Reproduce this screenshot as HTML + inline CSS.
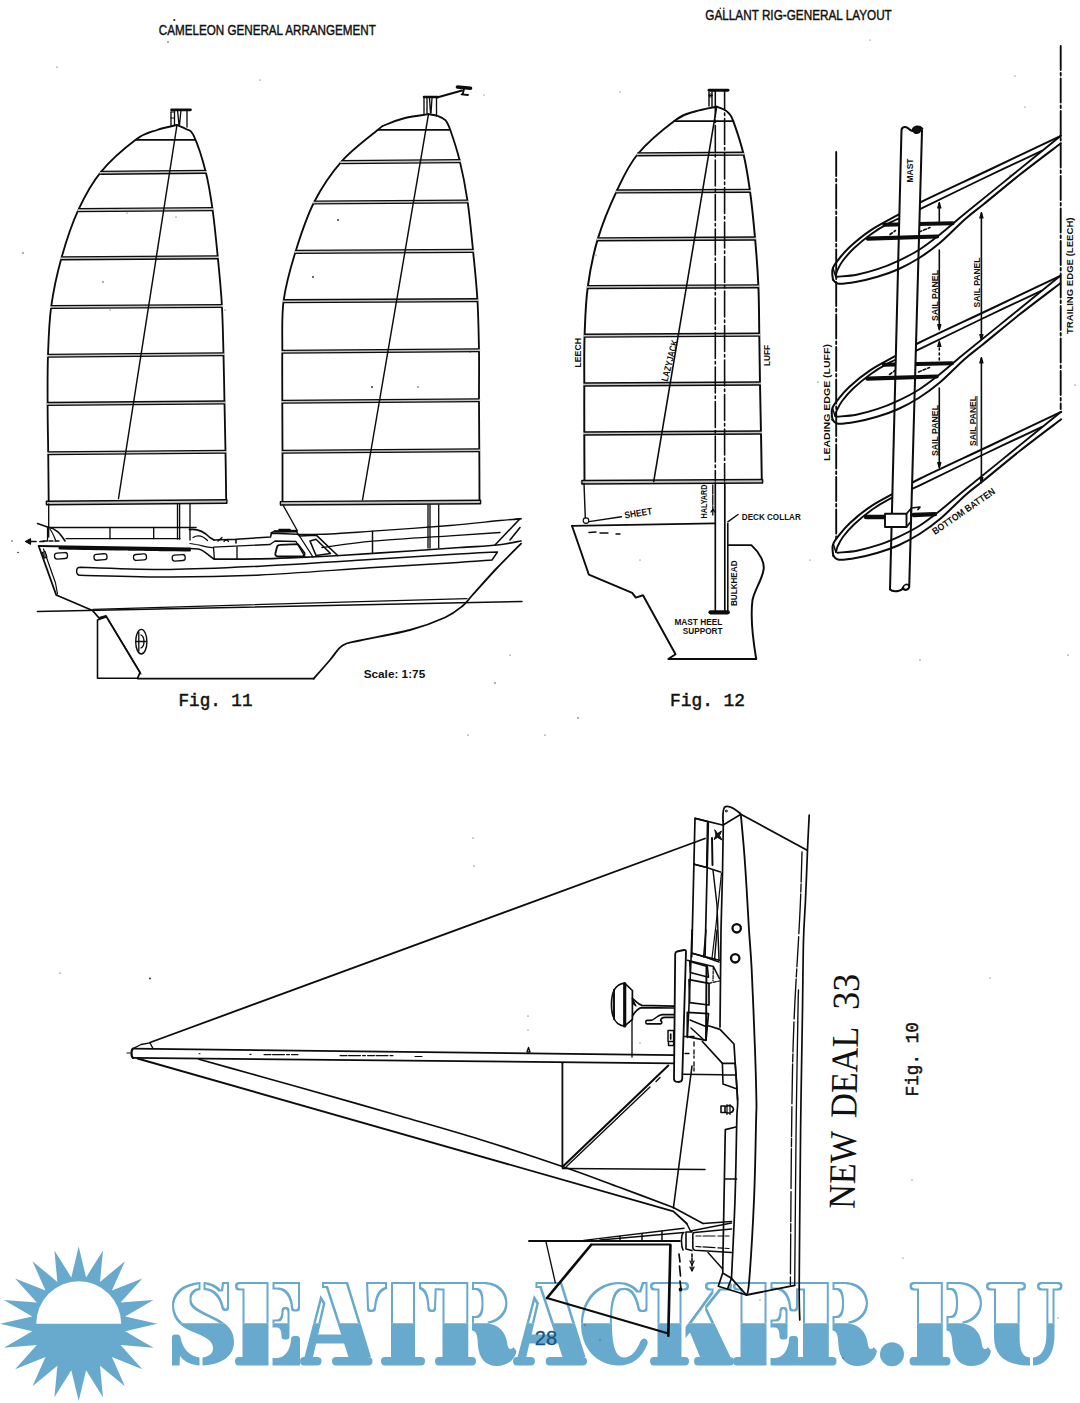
<!DOCTYPE html>
<html><head><meta charset="utf-8"><title>Page 28</title>
<style>
html,body{margin:0;padding:0;background:#fff;}
body{width:1080px;height:1403px;overflow:hidden;position:relative;font-family:"Liberation Sans",sans-serif;}
svg{position:absolute;left:0;top:0;display:block}
.ln path,.ln rect,.ln ellipse,.ln circle,.ln line{fill:none;stroke:#0c0c0c;stroke-linecap:round;stroke-linejoin:round}
.sans{font-family:"Liberation Sans",sans-serif;font-weight:bold;fill:#111}
.mono{font-family:"Liberation Mono",monospace;fill:#111}
.bold{font-weight:bold}
.med{font-weight:normal;stroke:#111;stroke-width:0.45px}
.med2{font-weight:normal;stroke:#111;stroke-width:0.5px}
.serif{font-family:"Liberation Serif",serif;fill:#111}
</style></head><body>
<svg width="1080" height="1403" viewBox="0 0 1080 1403">
<rect width="1080" height="1403" fill="#fff"/>
<!-- watermark (under drawings) -->
<defs>
<filter id="ol" x="-2%" y="-5%" width="104%" height="110%" color-interpolation-filters="sRGB">
<feMorphology in="SourceAlpha" operator="erode" radius="2.4" result="er"/>
<feFlood flood-color="#fff"/><feComposite in2="er" operator="in" result="wh"/>
<feMerge><feMergeNode in="SourceGraphic"/><feMergeNode in="wh"/></feMerge>
</filter>
<clipPath id="ctop"><rect x="160" y="1270" width="920" height="53.200000000000045"/></clipPath>
<clipPath id="cbot"><rect x="160" y="1323.2" width="920" height="60"/></clipPath>
<g id="wmg"><g transform="translate(172,1282.0) scale(1.0000,1)"><path d="M28.5,0 V8 C22,9 19.5,13.5 19.5,17.5 C19.5,25 30,29 42,35 C55,41 62,48.5 62,60 C62,74 50,82.5 30.5,83.5 V75.5 C38,74.5 41,71 41,66 C41,58 32,54.5 20,49.5 C8,44.5 0,37 0,23.5 C0,10 11,1 28.5,0 Z"/><path d="M31.5,0 C39,0.5 45,3 49,8 L50,0 H57 V26 Q57,29 54,29 H53 Q50,29 49.5,26 C47.5,16 41,8.5 31.5,8 Z"/><path d="M27.5,83.5 C19,83 12,79.5 8,74 L7.5,83.5 H0 V55.5 Q0,52.5 3,52.5 H5 Q8,52.5 8.5,55.5 C10.5,67 18,74.5 27.5,75.5 Z"/></g><g transform="translate(235,1282.0) scale(1.0000,1)"><path d="M0,4 Q0,0 4,0 H33.5 V83.5 H4 Q0,83.5 0,79.5 V79 Q0,75 4,75 H7.5 V8.5 H4 Q0,8.5 0,4 Z"/><path d="M37.5,0 H65 V26 Q65,29.5 62,29.5 H59 Q56,29.5 56,26 C55.5,16 50,7.5 42,7.5 H37.5 Z"/><path d="M37.5,37.5 H42 C45,37.5 46.5,34 46.5,28.5 Q46.5,25 49.5,25 H51.5 Q54.5,25 54.5,28.5 V54 Q54.5,57.5 51.5,57.5 H49.5 Q46.5,57.5 46.5,54 C46.5,49 45,45.5 42,45.5 H37.5 Z"/><path d="M37.5,83.5 H65 V57.5 Q65,54 62,54 H59 Q56,54 56,57.5 C55.5,67.5 50,76 42,76 H37.5 Z"/></g><g transform="translate(300,1282.0) scale(1.0000,1)"><path d="M22,0 H48 L71,75 H48.5 L26,6 H22 Z"/><path d="M36,75 H68 Q72.5,75 72.5,79 Q72.5,83.5 68,83.5 H36 Q32,83.5 32,79 Q32,75 36,75 Z"/><path d="M20.5,13 L25.5,21 L13,75 H17 Q21.5,75 21.5,79 Q21.5,83.5 17,83.5 H4 Q0,83.5 0,79 Q0,75 4,75 H4.5 Z"/><path d="M15,52.5 H42 L44.5,61.5 H13 Z"/></g><g transform="translate(366,1282.0) scale(1.0000,1)"><path d="M25,0 H49 V75 H55 Q59,75 59,79 Q59,83.5 55,83.5 H19 Q15,83.5 15,79 Q15,75 19,75 H25 Z"/><path d="M21,0 V7 C14,9 11,16 10,27 Q9.5,30 6.5,30 H4 Q1,30 1,27 L0,0 Z"/><path d="M53,0 V7 C59,9 61,16 61.5,27 Q62,30 65,30 H67 Q70,30 70,27 L71,0 Z"/></g><g transform="translate(435,1282.0) scale(1.0000,1)"><path d="M0,4 Q0,0 4,0 H33.3 V75 H37 Q41,75 41,79 Q41,83.5 37,83.5 H4 Q0,83.5 0,79 Q0,75 4,75 H7.5 V8.5 H4 Q0,8.5 0,4 Z"/><path d="M37,0 H49 C63,0 72.5,8.5 72.5,21 C72.5,32 65,40 54,41.5 C64,43.5 70.5,50 72,60 C72.5,64.5 73.5,67 75.5,67 C77,67 77.8,66 78.3,65 L81.5,69 C80,78 72,84 62,84 C50,84 44,76 43,64 C42.5,55 42,49 37,48.5 V34 H40 C45,34 46.5,28 46.5,21 C46.5,14 45,8 40,8 H37 Z"/></g><g transform="translate(513,1282.0) scale(1.0207,1)"><path d="M22,0 H48 L71,75 H48.5 L26,6 H22 Z"/><path d="M36,75 H68 Q72.5,75 72.5,79 Q72.5,83.5 68,83.5 H36 Q32,83.5 32,79 Q32,75 36,75 Z"/><path d="M20.5,13 L25.5,21 L13,75 H17 Q21.5,75 21.5,79 Q21.5,83.5 17,83.5 H4 Q0,83.5 0,79 Q0,75 4,75 H4.5 Z"/><path d="M15,52.5 H42 L44.5,61.5 H13 Z"/></g><g transform="translate(582,1282.0) scale(1.0000,1)"><path d="M57,9 C52,3 45,0 37,0 C15,0 -1,17 -1,41.75 C-1,66.5 15,83.5 37,83.5 C50,83.5 60,76 65.5,62 Q66.5,58 63,56.5 Q60,56 58.5,59 C55,69 49,75.5 42,75.5 C33,75.5 30,62 30,41.75 C30,21.5 33,8 42,8 C49,8 53.5,16 55.5,27 Q56,30 59,30 H62.5 Q65.5,30 65.5,27 V0 H60 Z"/></g><g transform="translate(650,1282.0) scale(1.0000,1)"><path d="M0,4 Q0,0 4,0 H35 Q39,0 39,4 Q39,8.5 35,8.5 H31.5 V75 H35 Q39,75 39,79 Q39,83.5 35,83.5 H4 Q0,83.5 0,79 Q0,75 4,75 H7.5 V8.5 H4 Q0,8.5 0,4 Z"/><path d="M35.5,45 L62,8.5 H59 Q55,8.5 55,4 Q55,0 59,0 H78 Q82,0 82,4 Q82,8.5 78,8.5 H71 L57,26 L80.4,75 Q84,75.5 84,79 Q84,83.5 80,83.5 H48 Q44,83.5 44,79 Q44,75 48,75 H50 L40,50.5 L35.5,56 Z"/></g><g transform="translate(733,1282.0) scale(1.0000,1)"><path d="M0,4 Q0,0 4,0 H33.5 V83.5 H4 Q0,83.5 0,79.5 V79 Q0,75 4,75 H7.5 V8.5 H4 Q0,8.5 0,4 Z"/><path d="M37.5,0 H65 V26 Q65,29.5 62,29.5 H59 Q56,29.5 56,26 C55.5,16 50,7.5 42,7.5 H37.5 Z"/><path d="M37.5,37.5 H42 C45,37.5 46.5,34 46.5,28.5 Q46.5,25 49.5,25 H51.5 Q54.5,25 54.5,28.5 V54 Q54.5,57.5 51.5,57.5 H49.5 Q46.5,57.5 46.5,54 C46.5,49 45,45.5 42,45.5 H37.5 Z"/><path d="M37.5,83.5 H65 V57.5 Q65,54 62,54 H59 Q56,54 56,57.5 C55.5,67.5 50,76 42,76 H37.5 Z"/></g><g transform="translate(795.5,1282.0) scale(1.0000,1)"><path d="M0,4 Q0,0 4,0 H33.3 V75 H37 Q41,75 41,79 Q41,83.5 37,83.5 H4 Q0,83.5 0,79 Q0,75 4,75 H7.5 V8.5 H4 Q0,8.5 0,4 Z"/><path d="M37,0 H49 C63,0 72.5,8.5 72.5,21 C72.5,32 65,40 54,41.5 C64,43.5 70.5,50 72,60 C72.5,64.5 73.5,67 75.5,67 C77,67 77.8,66 78.3,65 L81.5,69 C80,78 72,84 62,84 C50,84 44,76 43,64 C42.5,55 42,49 37,48.5 V34 H40 C45,34 46.5,28 46.5,21 C46.5,14 45,8 40,8 H37 Z"/></g><g transform="translate(909.5,1282.0) scale(1.0000,1)"><path d="M0,4 Q0,0 4,0 H33.3 V75 H37 Q41,75 41,79 Q41,83.5 37,83.5 H4 Q0,83.5 0,79 Q0,75 4,75 H7.5 V8.5 H4 Q0,8.5 0,4 Z"/><path d="M37,0 H49 C63,0 72.5,8.5 72.5,21 C72.5,32 65,40 54,41.5 C64,43.5 70.5,50 72,60 C72.5,64.5 73.5,67 75.5,67 C77,67 77.8,66 78.3,65 L81.5,69 C80,78 72,84 62,84 C50,84 44,76 43,64 C42.5,55 42,49 37,48.5 V34 H40 C45,34 46.5,28 46.5,21 C46.5,14 45,8 40,8 H37 Z"/></g><g transform="translate(986,1282.0) scale(1.0000,1)"><path d="M0,4 Q0,0 4,0 H36 Q40,0 40,4 Q40,8.5 36,8.5 H33.6 V55 C33.6,68 36,75 44,75.5 V83.5 C20,83.5 8,74 8,55 V8.5 H4 Q0,8.5 0,4 Z"/><path d="M47,75.5 C56,75 60.4,66 60.4,52 V8.5 H55 Q51,8.5 51,4 Q51,0 55,0 H72.5 Q76.5,0 76.5,4 Q76.5,8.5 72.5,8.5 H68.5 V52 C68.5,70 62,83 47,83.5 Z"/></g><circle cx="892" cy="1354.3" r="12"/></g>
</defs>
<g fill="#67aacd">
<path d="M157.3,1323.8 L125.1,1316.4 L153.5,1299.9 L120.6,1302.5 L142.3,1278.4 L111.9,1290.6 L124.9,1261.3 L100.0,1281.9 L103.0,1250.4 L86.1,1277.4 L78.7,1246.6 L71.3,1277.4 L54.4,1250.4 L57.4,1281.9 L32.5,1261.3 L45.5,1290.6 L15.1,1278.4 L36.8,1302.5 L3.9,1299.9 L32.3,1316.4 L0.1,1323.8 L32.3,1331.2 L3.9,1347.7 L36.8,1345.1 L15.1,1369.2 L45.5,1357.0 L32.5,1386.3 L57.4,1365.7 L54.4,1397.2 L71.3,1370.2 L78.7,1401.0 L86.1,1370.2 L103.0,1397.2 L100.0,1365.7 L124.9,1386.3 L111.9,1357.0 L142.3,1369.2 L120.6,1345.1 L153.5,1347.7 L125.1,1331.2 Z"/>
<path d="M36.2,1323.8 A42.5,42.5 0 0 1 121.2,1323.8 Z" fill="#fff"/>
<g clip-path="url(#ctop)"><use href="#wmg" filter="url(#ol)"/></g>
<g clip-path="url(#cbot)"><use href="#wmg"/></g>
</g>
<g class="ln">
<!-- Fig 11 -->
<path d="M177.0,125.0 C173.7,125.8 163.8,127.6 157.0,130.0 C150.2,132.4 145.3,132.5 136.0,139.5 C126.7,146.5 110.7,160.0 101.0,171.8 C91.3,183.6 84.7,196.0 78.1,210.4 C71.5,224.8 65.8,242.4 61.3,258.5 C56.8,274.6 53.4,290.6 51.2,306.7 C49.0,322.8 48.6,338.9 48.0,355.0 C47.4,371.1 47.6,386.8 47.6,403.0 C47.6,419.2 48.0,435.5 48.2,452.0 C48.4,468.5 48.6,493.7 48.7,502.0" stroke-width="1.83" />
<path d="M177.0,125.0 C178.5,125.7 183.2,127.2 186.0,129.0 C188.8,130.8 190.4,128.6 193.7,135.7 C197.0,142.8 202.6,159.6 205.7,171.8 C208.8,184.1 210.5,194.9 212.5,209.2 C214.5,223.4 216.2,241.2 217.8,257.3 C219.4,273.4 221.0,289.2 221.9,305.5 C222.8,321.8 223.1,338.8 223.5,355.0 C223.9,371.2 224.2,386.8 224.5,403.0 C224.8,419.2 225.2,435.5 225.5,452.0 C225.8,468.5 226.1,493.7 226.2,502.0" stroke-width="1.83" />
<path d="M135.67492260061917,139.8 L195.0628808864266,139.8" stroke-width="1.65"/>
<path d="M100.70336787564767,172.8 L205.79090909090908,171.8" stroke-width="2.90" style="stroke:#c4c4c4"/>
<path d="M100.70336787564767,171.35000000000002 L205.79090909090908,170.35000000000002" stroke-width="1.34"/>
<path d="M100.70336787564767,174.25 L205.79090909090908,173.25" stroke-width="1.34"/>
<path d="M78.57461139896373,210.1 L212.54407484407486,209.1" stroke-width="2.90" style="stroke:#c4c4c4"/>
<path d="M78.57461139896373,208.65 L212.54407484407486,207.65" stroke-width="1.34"/>
<path d="M78.57461139896373,211.54999999999998 L212.54407484407486,210.54999999999998" stroke-width="1.34"/>
<path d="M61.54449064449064,258.3 L217.84253112033196,257.3" stroke-width="2.90" style="stroke:#c4c4c4"/>
<path d="M61.54449064449064,256.85 L217.84253112033196,255.85000000000002" stroke-width="1.34"/>
<path d="M61.54449064449064,259.75 L217.84253112033196,258.75" stroke-width="1.34"/>
<path d="M51.24190871369295,307.0 L221.93232323232323,306.0" stroke-width="2.90" style="stroke:#c4c4c4"/>
<path d="M51.24190871369295,305.55 L221.93232323232323,304.55" stroke-width="1.34"/>
<path d="M51.24190871369295,308.45 L221.93232323232323,307.45" stroke-width="1.34"/>
<path d="M48.0,355.75 L223.5,354.25" stroke-width="2.90" style="stroke:#c4c4c4"/>
<path d="M48.0,354.3 L223.5,352.8" stroke-width="1.34"/>
<path d="M48.0,357.2 L223.5,355.7" stroke-width="1.34"/>
<path d="M47.60244897959184,403.95 L224.50408163265305,402.45" stroke-width="2.90" style="stroke:#c4c4c4"/>
<path d="M47.60244897959184,402.5 L224.50408163265305,401.0" stroke-width="1.34"/>
<path d="M47.60244897959184,405.4 L224.50408163265305,403.9" stroke-width="1.34"/>
<path d="M48.205000000000005,453.25 L225.507,451.75" stroke-width="2.90" style="stroke:#c4c4c4"/>
<path d="M48.205000000000005,451.8 L225.507,450.3" stroke-width="1.34"/>
<path d="M48.205000000000005,454.7 L225.507,453.2" stroke-width="1.34"/>
<path d="M46.5,503 L226.8,501.5" stroke-width="3.40" style="stroke:#c4c4c4"/>
<path d="M46.5,501.3 L226.8,499.8" stroke-width="1.40"/>
<path d="M46.5,504.7 L226.8,503.2" stroke-width="1.40"/>
<path d="M46.5,501.5 L46.5,504.5" stroke-width="1.22"/>
<path d="M226.8,500 L226.8,503" stroke-width="1.22"/>
<path d="M177,125 L118.5,498.5" stroke-width="1.46"/>
<path d="M171.5,109.8 H190.5" stroke-width="2.68" />
<path d="M171,112 V125.5 M174.5,110 V125 M177.5,110 L179,125 M181,110 L179.5,125 M187,110 V127" stroke-width="1.34" />
<path d="M171,112 H174.5 M171,118 H174.5" stroke-width="1.22" />
<path d="M177.5,504 V539 M179.6,504 V539 M190,504 V540" stroke-width="1.34" />
<path d="M48.7,504 L48.7,537" stroke-width="1.34"/>
<path d="M428.5,114.2 C424.6,114.8 412.2,116.2 405.0,118.0 C397.8,119.8 389.7,123.0 385.2,125.0 C380.7,127.0 385.2,123.8 378.0,129.8 C370.8,135.8 352.5,149.1 341.9,161.1 C331.3,173.1 321.9,186.9 314.2,202.0 C306.5,217.1 300.7,235.0 295.6,251.4 C290.5,267.9 285.8,284.1 283.6,300.7 C281.4,317.3 282.5,334.3 282.3,351.0 C282.1,367.7 282.3,384.3 282.3,401.0 C282.3,417.7 282.5,434.2 282.5,451.0 C282.5,467.8 282.5,493.5 282.5,502.0" stroke-width="1.83" />
<path d="M428.5,114.2 C430.1,114.5 435.2,115.0 438.0,116.0 C440.8,117.0 443.4,117.9 445.4,120.2 C447.4,122.5 447.8,123.0 450.2,129.8 C452.6,136.6 456.9,149.3 459.8,161.1 C462.7,172.9 465.3,186.0 467.5,200.8 C469.7,215.7 471.4,233.8 473.0,250.2 C474.6,266.6 476.4,282.7 477.4,299.5 C478.4,316.3 478.7,334.1 479.0,351.0 C479.3,367.9 478.9,384.3 479.0,401.0 C479.1,417.7 479.2,434.2 479.3,451.0 C479.4,467.8 479.5,493.5 479.5,502.0" stroke-width="1.83" />
<path d="M378.0,129.8 L450.2,129.8" stroke-width="1.65"/>
<path d="M341.561369193154,162.1 L459.89697732997485,161.1" stroke-width="2.90" style="stroke:#c4c4c4"/>
<path d="M341.561369193154,160.65 L459.89697732997485,159.65" stroke-width="1.34"/>
<path d="M341.561369193154,163.54999999999998 L459.89697732997485,162.54999999999998" stroke-width="1.34"/>
<path d="M314.2,202.5 L467.6336032388664,201.5" stroke-width="2.90" style="stroke:#c4c4c4"/>
<path d="M314.2,201.05 L467.6336032388664,200.05" stroke-width="1.34"/>
<path d="M314.2,203.95 L467.6336032388664,202.95" stroke-width="1.34"/>
<path d="M295.6,251.9 L473.10709939148074,250.9" stroke-width="2.90" style="stroke:#c4c4c4"/>
<path d="M295.6,250.45000000000002 L473.10709939148074,249.45000000000002" stroke-width="1.34"/>
<path d="M295.6,253.35 L473.10709939148074,252.35" stroke-width="1.34"/>
<path d="M283.6,301.2 L477.437281553398,300.2" stroke-width="2.90" style="stroke:#c4c4c4"/>
<path d="M283.6,299.75 L477.437281553398,298.75" stroke-width="1.34"/>
<path d="M283.6,302.65 L477.437281553398,301.65" stroke-width="1.34"/>
<path d="M282.3,351.75 L479.0,350.25" stroke-width="2.90" style="stroke:#c4c4c4"/>
<path d="M282.3,350.3 L479.0,348.8" stroke-width="1.34"/>
<path d="M282.3,353.2 L479.0,351.7" stroke-width="1.34"/>
<path d="M282.3,401.75 L479.0,400.25" stroke-width="2.90" style="stroke:#c4c4c4"/>
<path d="M282.3,400.3 L479.0,398.8" stroke-width="1.34"/>
<path d="M282.3,403.2 L479.0,401.7" stroke-width="1.34"/>
<path d="M282.5,451.75 L479.3,450.25" stroke-width="2.90" style="stroke:#c4c4c4"/>
<path d="M282.5,450.3 L479.3,448.8" stroke-width="1.34"/>
<path d="M282.5,453.2 L479.3,451.7" stroke-width="1.34"/>
<path d="M280.5,503.3 L480.5,502" stroke-width="3.40" style="stroke:#c4c4c4"/>
<path d="M280.5,501.6 L480.5,500.3" stroke-width="1.40"/>
<path d="M280.5,505.0 L480.5,503.7" stroke-width="1.40"/>
<path d="M280.5,501.8 L280.5,504.8" stroke-width="1.22"/>
<path d="M480.5,500.5 L480.5,503.5" stroke-width="1.22"/>
<path d="M428.5,114.2 L362.5,500" stroke-width="1.46"/>
<path d="M424,97 H437.5" stroke-width="2.44" />
<path d="M424,98 V113.5 M427,98 V113.5 M429.5,98 L430.5,113 M432,98 L431,113 M436.5,98 V116" stroke-width="1.34" />
<path d="M437,97.5 L462,90.5" stroke-width="1.95" />
<path d="M457.5,87 L470.5,88.2" stroke-width="3.66" />
<path d="M464,89 L463,93 M461.5,94.3 L468,95" stroke-width="1.83" />
<path d="M428,505 V548 M430,505 V548 M438.7,505 V548" stroke-width="1.34" />
<path d="M283,505 L297.5,531" stroke-width="1.34"/>
<path d="M38.7,546 L56.2,595 L92.5,610.5 L99,618 L106,616 L140,672.5 L137.5,678.5 L313.7,678.7" stroke-width="1.83" />
<path d="M313.7,678.7 C316.4,675.6 325.2,665.5 330.0,660.0 C334.8,654.5 337.5,648.8 342.5,645.5 C347.5,642.2 348.8,643.1 360.0,640.5 C371.2,637.9 395.8,633.8 410.0,630.0 C424.2,626.2 436.2,621.5 445.0,617.5 C453.8,613.5 457.9,609.8 462.5,606.0 C467.1,602.2 466.8,601.3 472.5,595.0 C478.2,588.7 488.9,576.5 497.0,568.0 C505.1,559.5 517.0,547.8 521.0,543.7" stroke-width="1.83" />
<path d="M43.5,549 L55.5,583 L57.5,594" stroke-width="1.22" />
<path d="M106,617 L97.5,620 V678.3 H137" stroke-width="1.59" />
<path d="M108.5,620 L141,674" stroke-width="1.22" />
<path d="M37.5,611.5 L522,601.5" stroke-width="1.46"/>
<path d="M93,609.3 L467,598.6" stroke-width="1.22"/>
<path d="M38.7,546 L190,548.5" stroke-width="1.83" />
<path d="M60,548 L190,550" stroke-width="3.17" stroke-dasharray="9 1.5 3 1"/>
<path d="M43,541 L60,541" stroke-width="1.46" stroke-dasharray="4 2"/>
<path d="M27,541.5 L36,541.5 M40,541.5 L44,541.5" stroke-width="1.71" />
<path d="M25.5,541.5 L30.5,538.8 L30.5,544.2 Z" stroke-width="1.22" style="fill:#111"/>
<path d="M214.4,559.2 C222.0,559.1 245.7,559.1 260.0,558.8 C274.3,558.5 286.7,557.9 300.0,557.4 C313.3,556.9 321.7,556.6 340.0,555.5 C358.3,554.4 390.0,552.3 410.0,551.0 C430.0,549.7 445.4,548.5 460.0,547.5 C474.6,546.5 487.3,546.1 497.5,545.0 C507.7,543.9 517.1,541.7 521.0,541.0" stroke-width="1.71" />
<path d="M80.0,567.3 C95.0,567.6 140.0,569.6 170.0,569.4 C200.0,569.2 226.7,567.8 260.0,566.2 C293.3,564.6 338.3,561.6 370.0,559.6 C401.7,557.6 428.8,555.8 450.0,554.5 C471.2,553.2 489.6,552.4 497.5,552.0 L492,560  C485.0,560.5 470.3,561.7 450.0,563.0 C429.7,564.3 401.7,565.8 370.0,567.8 C338.3,569.8 293.3,573.5 260.0,575.0 C226.7,576.5 200.0,577.0 170.0,577.0 C140.0,577.0 95.0,575.6 80.0,575.3 C75.5,575.3 75.5,567.3 80,567.3" stroke-width="1.46" />
<rect x="54.5" y="552.8" width="13" height="6" rx="2.6" stroke-width="1.3" transform="rotate(-4 61 555.8)"/>
<rect x="94.0" y="554" width="13" height="6" rx="2.6" stroke-width="1.3" transform="rotate(-4 100.5 557)"/>
<rect x="133.5" y="554.2" width="13" height="6" rx="2.6" stroke-width="1.3" transform="rotate(-4 140 557.2)"/>
<rect x="172.2" y="554.8" width="13" height="6" rx="2.6" stroke-width="1.3" transform="rotate(-4 178.7 557.8)"/>
<rect x="43" y="552" width="3.2" height="6" stroke-width="1" style="fill:#555" transform="rotate(-18 44 555)"/>
<ellipse cx="141.3" cy="641.7" rx="5.6" ry="12.3" stroke-width="1.4"/>
<path d="M138.8,632 V651 M136.5,641.5 H146 M141,635 C145,637 145,646 141,648" stroke-width="1.34" />
<path d="M47.5,527.5 H196" stroke-width="1.46" />
<path d="M66,538.7 H180" stroke-width="1.34" />
<path d="M110,527.5 V538.7 M153.7,527.5 V538.7" stroke-width="1.34" />
<path d="M37.5,523.5 L47.5,527 C56,528.5 60,533 65,541" stroke-width="1.59" />
<path d="M47.5,527 V541 M50,529 C53,533 54,537 56,541" stroke-width="1.22" />
<path d="M189.4,529.6 C198,528.5 204,531.5 209.8,537.5 L214,540" stroke-width="1.59" />
<path d="M193,537.5 C198,534.5 203,536 207.5,540.5" stroke-width="1.34" />
<path d="M190,548.5 L198,549 C205,550 208,556 214.4,559.2" stroke-width="1.59" />
<path d="M190,543.5 L196,544.5 C203,545.5 207,548 213.5,547.5" stroke-width="1.22" />
<path d="M214,540 L236,539.2 L236,543 M236,539.2 L270.5,537 L271.5,533.3 L297.7,534.2 L299.5,536 L316.3,535.2 L337.6,555.5" stroke-width="1.59" />
<path d="M213.5,547.2 L214.4,559.2 M213.5,547.2 L270,544.5 L275,541 L296,541.5 L305,557" stroke-width="1.34" />
<path d="M237,547 V559" stroke-width="1.34" />
<path d="M218,541 L222,537.5 M224,541.5 C225,539.5 227.5,539.5 228.5,541.5" stroke-width="1.34" />
<path d="M280,544.8 L298,544.2 L304.5,553 C305,555.5 304,556.3 302,556.3 L277.5,556.3 C275.5,556.3 275,555 275.5,553 L277,547 C277.5,545.3 278.5,544.8 280,544.8 Z" stroke-width="1.83" />
<path d="M310,541 L316,539.2 L330.5,553.5 L316,555.5 Z" stroke-width="1.59" />
<path d="M299.5,536 L313,557" stroke-width="1.34" />
<path d="M271,533 L275,531 L296,530.5 L298,534 M279,529.5 H290" stroke-width="1.46" />
<path d="M275,531.6 L296,531.2" stroke-width="2.44" />
<path d="M298.0,534.5 C303.3,534.4 317.6,534.5 330.0,534.0 C342.4,533.5 352.5,532.6 372.5,531.2 C392.5,529.8 428.8,527.3 450.0,525.5 C471.2,523.7 488.2,521.6 500.0,520.5 C511.8,519.4 517.5,519.0 521.0,518.7" stroke-width="1.34" />
<path d="M322.0,547.5 C330.4,546.5 351.2,543.2 372.5,541.2 C393.8,539.2 428.8,537.2 450.0,535.8 C471.2,534.3 491.7,533.0 500.0,532.5" stroke-width="1.34" />
<path d="M372.5,531.2 V553.5" stroke-width="1.46" />
<path d="M520,518.7 L495,545 M520,527.5 L510,540 M514,519.5 L521,518.7" stroke-width="1.59" />
<!-- Fig 12 -->
<path d="M716.7,106.7 C713.1,107.5 701.9,109.3 695.0,111.5 C688.1,113.7 685.1,112.9 675.6,120.0 C666.1,127.1 647.6,142.2 637.8,154.0 C628.0,165.8 623.4,176.9 616.7,191.1 C610.0,205.2 602.6,223.0 597.8,238.9 C593.0,254.8 590.0,270.7 587.8,286.7 C585.6,302.7 585.2,318.8 584.6,335.0 C584.0,351.2 584.3,367.7 584.3,384.0 C584.2,400.3 584.3,416.8 584.3,433.0 C584.3,449.2 584.5,473.0 584.5,481.0" stroke-width="1.95" />
<path d="M716.7,106.7 C717.9,107.2 722.0,108.4 724.0,109.5 C726.0,110.6 727.4,111.4 728.9,113.3 C730.4,115.2 730.9,114.4 733.3,121.1 C735.7,127.8 740.5,141.6 743.3,153.3 C746.1,165.0 748.0,176.8 750.0,191.1 C752.0,205.4 753.7,223.0 755.1,238.9 C756.5,254.8 757.7,270.7 758.4,286.7 C759.1,302.7 759.0,318.8 759.3,335.0 C759.6,351.2 759.7,367.7 760.0,384.0 C760.3,400.3 760.7,416.8 761.0,433.0 C761.3,449.2 761.7,473.0 761.8,481.0" stroke-width="1.95" />
<path d="M674.3770588235294,121.1 L733.3,121.1" stroke-width="1.76"/>
<path d="M637.8,154.3 L743.424074074074,153.7" stroke-width="2.90" style="stroke:#c4c4c4"/>
<path d="M637.8,152.85000000000002 L743.424074074074,152.25" stroke-width="1.43"/>
<path d="M637.8,155.75 L743.424074074074,155.14999999999998" stroke-width="1.43"/>
<path d="M616.7,191.4 L750.0,190.79999999999998" stroke-width="2.90" style="stroke:#c4c4c4"/>
<path d="M616.7,189.95000000000002 L750.0,189.35" stroke-width="1.43"/>
<path d="M616.7,192.85 L750.0,192.24999999999997" stroke-width="1.43"/>
<path d="M597.8,239.3 L755.1,238.5" stroke-width="2.90" style="stroke:#c4c4c4"/>
<path d="M597.8,237.85000000000002 L755.1,237.05" stroke-width="1.43"/>
<path d="M597.8,240.75 L755.1,239.95" stroke-width="1.43"/>
<path d="M587.8,287.09999999999997 L758.4,286.3" stroke-width="2.90" style="stroke:#c4c4c4"/>
<path d="M587.8,285.65 L758.4,284.85" stroke-width="1.43"/>
<path d="M587.8,288.54999999999995 L758.4,287.75" stroke-width="1.43"/>
<path d="M584.5987755102041,335.7 L759.3028571428571,334.7" stroke-width="2.90" style="stroke:#c4c4c4"/>
<path d="M584.5987755102041,334.25 L759.3028571428571,333.25" stroke-width="1.43"/>
<path d="M584.5987755102041,337.15 L759.3028571428571,336.15" stroke-width="1.43"/>
<path d="M584.3,384.5 L760.0,383.5" stroke-width="2.90" style="stroke:#c4c4c4"/>
<path d="M584.3,383.05 L760.0,382.05" stroke-width="1.43"/>
<path d="M584.3,385.95 L760.0,384.95" stroke-width="1.43"/>
<path d="M584.3,433.5 L761.0,432.5" stroke-width="2.90" style="stroke:#c4c4c4"/>
<path d="M584.3,432.05 L761.0,431.05" stroke-width="1.43"/>
<path d="M584.3,434.95 L761.0,433.95" stroke-width="1.43"/>
<path d="M582,482.3 L762.5,481.3" stroke-width="3.40" style="stroke:#c4c4c4"/>
<path d="M582,480.6 L762.5,479.6" stroke-width="1.49"/>
<path d="M582,484.0 L762.5,483.0" stroke-width="1.49"/>
<path d="M582,480.8 L582,483.8" stroke-width="1.30"/>
<path d="M762.5,479.8 L762.5,482.8" stroke-width="1.30"/>
<path d="M716.7,106.7 L653.7,481.5" stroke-width="1.56"/>
<path d="M709,90.3 H728" stroke-width="2.86" />
<path d="M709,92 V106 M712,91 V106.5 M709,95.5 H712" stroke-width="1.43" />
<circle cx="710.5" cy="95.5" r="1.6" stroke-width="1"/>
<path d="M715.3,91 V481" stroke-width="1.56" stroke-dasharray="26 3 2.5 3"/>
<path d="M724.6,91 V481" stroke-width="1.56" stroke-dasharray="26 3 2.5 3" stroke-dashoffset="7"/>
<path d="M715.3,483 V611 M724.8,483 V611" stroke-width="1.69" />
<path d="M712.8,485 V515" stroke-width="1.30" stroke-dasharray="9 1.5"/>
<path d="M711,512 L713,509 L714.5,512" stroke-width="1.30" />
<path d="M727.8,523.5 V610.5" stroke-width="1.56" />
<path d="M727.8,521.8 L738,514.5" stroke-width="1.43" />
<path d="M710.5,612.3 H727.8" stroke-width="4.16" stroke-linecap="butt"/>
<path d="M584,483.5 L585.3,517.5" stroke-width="1.43"/>
<circle cx="586" cy="520.6" r="2.8" stroke-width="1.2"/>
<path d="M589,521.6 L621.5,516.8" stroke-width="1.43"/>
<path d="M572,525.8 L714.5,523.4" stroke-width="1.82"/>
<path d="M589,532.5 L596,532 M600,533 H608 M616,534 H620" stroke-width="1.43" />
<path d="M572,525.8 L588.9,574.7 L632.2,592.8 L635.8,597.6 L643,595.2 L675.5,654.2 L668.3,659 L756.2,659" stroke-width="1.95" />
<path d="M728.5,545.1 H751.4 C760,553 765,563 763.5,570 C762,580 754.5,590 752.5,600 C750.5,615 753,640 756.2,659" stroke-width="1.95" />
<!-- Fig 12 detail -->
<path d="M1060.8,135.8 C1049.0,141.4 1013.5,158.4 990.0,169.5 C966.5,180.6 935.2,195.0 920.0,202.5 C904.8,210.0 907.2,209.7 899.0,214.3 C890.8,218.9 878.8,224.9 870.6,230.3 C862.4,235.7 855.0,242.1 849.7,246.9 C844.4,251.8 841.4,255.9 838.6,259.4 C835.8,262.9 834.0,265.4 833.0,267.8 C832.0,270.2 832.3,272.0 832.3,274.0 C832.3,276.0 832.9,278.7 833.0,279.6" stroke-width="2.03" />
<path d="M1041.7,150.8 C1031.4,155.7 1000.3,170.3 980.0,180.0 C959.7,189.7 935.2,202.0 920.0,209.2 C904.8,216.4 896.8,219.1 888.6,223.3 C880.4,227.5 876.4,230.2 870.6,234.4 C864.8,238.6 858.5,243.9 853.9,248.3 C849.3,252.7 845.6,257.1 842.8,260.8 C840.0,264.5 838.4,268.1 837.2,270.6 C836.0,273.2 836.0,275.2 835.8,276.1" stroke-width="1.89" />
<path d="M1060.3,275.8 C1048.5,281.4 1013.0,298.4 989.5,309.5 C966.0,320.6 934.7,335.0 919.5,342.5 C904.3,350.0 906.7,349.7 898.5,354.3 C890.3,358.9 878.3,364.9 870.1,370.3 C861.9,375.7 854.5,382.0 849.2,386.9 C843.9,391.8 840.9,395.9 838.1,399.4 C835.3,402.9 833.5,405.4 832.5,407.8 C831.5,410.2 831.8,412.0 831.8,414.0 C831.8,416.0 832.4,418.7 832.5,419.6" stroke-width="2.03" />
<path d="M1041.2,290.8 C1030.9,295.7 999.8,310.3 979.5,320.0 C959.2,329.7 934.7,342.0 919.5,349.2 C904.3,356.4 896.3,359.1 888.1,363.3 C879.9,367.5 875.9,370.2 870.1,374.4 C864.3,378.6 858.0,383.9 853.4,388.3 C848.8,392.7 845.1,397.1 842.3,400.8 C839.5,404.5 837.9,408.1 836.7,410.6 C835.5,413.2 835.5,415.2 835.3,416.1" stroke-width="1.89" />
<path d="M1061.1,411.8 C1049.3,417.4 1013.8,434.4 990.3,445.5 C966.8,456.6 935.5,471.0 920.3,478.5 C905.1,486.0 907.5,485.7 899.3,490.3 C891.1,494.9 879.1,500.9 870.9,506.3 C862.7,511.7 855.3,518.0 850.0,522.9 C844.7,527.8 841.7,531.9 838.9,535.4 C836.1,538.9 834.3,541.4 833.3,543.8 C832.2,546.2 832.6,548.0 832.6,550.0 C832.6,552.0 833.2,554.7 833.3,555.6" stroke-width="2.03" />
<path d="M1042.0,426.8 C1031.7,431.7 1000.6,446.3 980.3,456.0 C960.0,465.7 935.5,478.0 920.3,485.2 C905.1,492.4 897.1,495.1 888.9,499.3 C880.7,503.5 876.7,506.2 870.9,510.4 C865.1,514.6 858.8,519.9 854.2,524.3 C849.6,528.7 845.9,533.1 843.1,536.8 C840.3,540.5 838.7,544.0 837.5,546.6 C836.3,549.2 836.3,551.2 836.1,552.1" stroke-width="1.89" />
<path d="M884.4,224.7 L952.5,223.3" stroke-width="4.06" stroke-linecap="butt"/>
<path d="M883.9,364.7 L952.0,363.3" stroke-width="4.06" stroke-linecap="butt"/>
<path d="M901.5,130 C902,126.5 906,126 909,129 C911,131 913.5,132 916,129.5 C918,127 921.5,127.5 922,131 L909.2,587 C908,591 903.5,590.5 903,587.5 C902,591.5 893,592.5 890,589.5 Z" stroke-width="2.03" style="fill:#fff"/>
<path d="M912.5,129.5 C914,126 919,125 922.5,128.5 L919,132.5 C916,134 913.5,133 912.5,129.5 Z" stroke-width="1.74" style="fill:#111"/>
<path d="M903,587.5 C904,584 907.5,583.5 909.2,586" stroke-width="1.59" />
<path d="M867.8,238.6 L937.2,236.5" stroke-width="4.06" stroke-linecap="butt"/>
<path d="M890,234.5 L895.5,230.5 M919,232 L930,227.5" stroke-width="1.59" stroke-dasharray="3 2"/>
<path d="M867.3,378.6 L936.7,376.5" stroke-width="4.06" stroke-linecap="butt"/>
<path d="M889.5,374.5 L895.0,370.5 M918.5,372 L929.5,367.5" stroke-width="1.59" stroke-dasharray="3 2"/>
<path d="M866,517 H885" stroke-width="4.35" stroke-linecap="butt"/>
<path d="M913.7,515 L935,514.2" stroke-width="4.35" stroke-linecap="butt"/>
<path d="M885,513.7 H906.5 V527 H885 Z" stroke-width="1.89" style="fill:#fff"/>
<path d="M906.5,513.7 L911.5,508 L920,507 L918,509.5 M906.5,527 L911,521.5 V508.5" stroke-width="1.74" />
<path d="M837.2,276.8 C840.5,276.4 850.0,276.0 856.7,274.7 C863.4,273.4 870.6,271.5 877.5,269.2 C884.4,266.9 891.3,264.1 898.3,260.8 C905.2,257.6 912.2,254.1 919.2,249.7 C926.2,245.3 932.4,240.4 940.0,234.4 C947.6,228.4 953.3,223.2 965.0,213.6 C976.7,204.0 994.0,190.0 1010.0,177.0 C1026.0,164.0 1052.3,142.7 1060.8,135.8" stroke-width="1.89" />
<path d="M833.0,279.6 C833.9,280.3 834.6,283.4 838.6,283.7 C842.6,284.0 850.2,282.8 856.7,281.7 C863.2,280.6 870.6,278.9 877.5,276.8 C884.4,274.7 891.3,272.3 898.3,269.2 C905.2,266.1 912.2,262.4 919.2,258.0 C926.2,253.6 932.4,249.3 940.0,242.8 C947.6,236.3 957.8,225.6 965.0,219.2 C972.2,212.8 974.1,211.9 983.3,204.5 C992.5,197.1 1007.1,184.7 1020.0,174.5 C1032.9,164.3 1054.0,148.5 1060.8,143.3" stroke-width="2.03" />
<path d="M833,268 L835.5,276" stroke-width="1.45" />
<path d="M836.7,416.8 C840.0,416.4 849.5,416.0 856.2,414.7 C862.9,413.4 870.1,411.5 877.0,409.2 C883.9,406.9 890.8,404.1 897.8,400.8 C904.8,397.6 911.8,394.1 918.7,389.7 C925.7,385.3 931.9,380.4 939.5,374.4 C947.1,368.4 952.8,363.2 964.5,353.6 C976.2,344.0 993.5,330.0 1009.5,317.0 C1025.5,304.0 1051.8,282.7 1060.3,275.8" stroke-width="1.89" />
<path d="M832.5,419.6 C833.4,420.3 834.1,423.4 838.1,423.7 C842.1,424.0 849.7,422.8 856.2,421.7 C862.7,420.6 870.1,418.9 877.0,416.8 C883.9,414.7 890.8,412.3 897.8,409.2 C904.8,406.1 911.8,402.4 918.7,398.0 C925.7,393.6 931.9,389.3 939.5,382.8 C947.1,376.3 957.3,365.6 964.5,359.2 C971.7,352.8 973.6,351.9 982.8,344.5 C992.0,337.1 1006.6,324.7 1019.5,314.5 C1032.4,304.3 1053.5,288.5 1060.3,283.3" stroke-width="2.03" />
<path d="M832.5,408 L835.0,416" stroke-width="1.45" />
<path d="M837.5,552.8 C840.8,552.4 850.3,552.0 857.0,550.7 C863.7,549.4 870.9,547.5 877.8,545.2 C884.7,542.9 891.6,540.0 898.6,536.8 C905.5,533.5 912.5,530.1 919.5,525.7 C926.5,521.3 932.7,516.4 940.3,510.4 C947.9,504.4 953.6,499.2 965.3,489.6 C977.0,480.0 994.3,466.0 1010.3,453.0 C1026.3,440.0 1052.6,418.7 1061.1,411.8" stroke-width="1.89" />
<path d="M833.3,555.6 C834.2,556.3 834.9,559.4 838.9,559.7 C842.9,560.1 850.5,558.9 857.0,557.7 C863.5,556.6 870.9,554.9 877.8,552.8 C884.7,550.7 891.6,548.3 898.6,545.2 C905.5,542.1 912.5,538.4 919.5,534.0 C926.5,529.6 932.7,525.3 940.3,518.8 C947.9,512.3 958.1,501.6 965.3,495.2 C972.5,488.8 974.4,487.9 983.6,480.5 C992.8,473.1 1007.4,460.7 1020.3,450.5 C1033.2,440.3 1054.3,424.5 1061.1,419.3" stroke-width="2.03" />
<path d="M833.3,544 L835.8,552" stroke-width="1.45" />
<path d="M836.2,152 V541" stroke-width="1.89" stroke-dasharray="24 3 2.5 3"/>
<path d="M1060.7,46 V409" stroke-width="1.89" stroke-dasharray="24 3 2.5 3"/>
<path d="M939.3,203 L939.3,223" stroke-width="1.59"/>
<path d="M939.3,202.5 L937.6999999999999,208.0 L940.9,208.0 Z" stroke-width="1.16" style="fill:#111"/>
<path d="M939.3,250 L939.3,329" stroke-width="1.59"/>
<path d="M939.3,330 L937.6999999999999,324.5 L940.9,324.5 Z" stroke-width="1.16" style="fill:#111"/>
<path d="M939.3,341 L937.6999999999999,346.5 L940.9,346.5 Z" stroke-width="1.16" style="fill:#111"/>
<path d="M939.3,343 V362" stroke-width="1.59" stroke-dasharray="2 3"/>
<path d="M939.3,388 L939.3,467" stroke-width="1.59"/>
<path d="M939.3,468 L937.6999999999999,462.5 L940.9,462.5 Z" stroke-width="1.16" style="fill:#111"/>
<path d="M981.4,213 L981.4,339" stroke-width="1.59"/>
<path d="M981.4,212.5 L979.8,218.0 L983.0,218.0 Z" stroke-width="1.16" style="fill:#111"/>
<path d="M981.4,340 L979.8,334.5 L983.0,334.5 Z" stroke-width="1.16" style="fill:#111"/>
<path d="M981.4,358 L981.4,482" stroke-width="1.59"/>
<path d="M981.4,357.5 L979.8,363.0 L983.0,363.0 Z" stroke-width="1.16" style="fill:#111"/>
<path d="M981.4,483 L979.8,477.5 L983.0,477.5 Z" stroke-width="1.16" style="fill:#111"/>
<!-- Fig 10 -->
<path d="M133,1048.6 L674,1055.2 M133,1057.8 L674,1063.4" stroke-width="1.71" />
<path d="M133,1048.6 C131,1050 131,1056.5 133,1057.8" stroke-width="2.20" />
<path d="M127,1053 H130" stroke-width="1.22" />
<path d="M133,1048.6 L141,1044.5 L150,1042.8 L153,1048.6" stroke-width="1.34" />
<path d="M264,1054.6 H298 M340,1055.6 H393 M415,1056.5 H422 M250,1054.4 H251 M199,1053.8 H200" stroke-width="1.10" stroke-dasharray="7 1.5 12 2 3 2"/>
<path d="M150,1042.5 L705,838.5" stroke-width="1.83"/>
<path d="M137.5,1058.5 L673.4,1211.3 L686.7,1223.5" stroke-width="1.83" />
<path d="M199.0,1059.3 C207.5,1061.7 233.2,1068.8 250.0,1073.5 C266.8,1078.2 275.0,1080.4 300.0,1087.5 C325.0,1094.6 370.0,1107.3 400.0,1116.0 C430.0,1124.7 452.9,1131.1 480.0,1139.5 C507.1,1147.9 539.1,1158.5 562.4,1166.5 C585.7,1174.5 601.5,1180.7 620.0,1187.5 C638.5,1194.3 664.5,1204.2 673.4,1207.5" stroke-width="1.71" />
<path d="M673.4,1207.5 L703,1223.5" stroke-width="1.59" />
<path d="M527,1052 L528.5,1047.5 L530,1052 Z" stroke-width="1.34" />
<path d="M562.4,1063.2 V1167" stroke-width="1.83" />
<path d="M562.4,1168.5 L705,1169.5" stroke-width="1.46" />
<path d="M562.6,1166.8 L668.3,1065.6" stroke-width="2.07" />
<path d="M566.5,1166.5 L650,1087 M656,1081.5 L660,1077.5" stroke-width="1.34" />
<path d="M692,1066 L673.4,1208" stroke-width="1.59"/>
<path d="M632,1019 L632,1057" stroke-width="1.34"/>
<path d="M624.5,983.1 C613,984.5 611.5,995 611.5,1004.5 C611.5,1014 613,1024.5 624.5,1026.2 L632.4,1019.3 V990.5 Z" stroke-width="1.71" />
<path d="M624.7,983.5 V1026" stroke-width="3.17" />
<path d="M614,990 V1019" stroke-width="1.95" stroke="#555"/>
<path d="M632.4,998.5 C636,1001 638,1004.5 642,1005.3 L674,1006.2" stroke-width="1.71" />
<path d="M632.4,1016 C635,1012 637,1008.5 641.5,1007.6 L674,1008" stroke-width="1.71" />
<path d="M632.5,999 L636,1006 L632.5,1003 Z" stroke-width="1.22" style="fill:#111"/>
<path d="M674,1014.6 H662 C657,1014.8 655,1020 651,1020.4 H647 C645.3,1020.6 645.3,1023.9 647,1023.9 H660.5 C662.3,1023.6 662.3,1021 660.5,1020.6 C661,1018 663,1017.4 665,1017.4 H674" stroke-width="1.59" />
<path d="M668,1030.4 H673.6 V1045.6 H668.5 V1041.5 H673.6 M668,1030.4 V1041.5" stroke-width="1.46" />
<path d="M670.7,1034 V1039" stroke-width="1.71" stroke="#555"/>
<path d="M677,951.5 L684,950 C685.5,949.8 686.2,950.5 686,952 L682.2,1079 C682,1081.5 680.5,1082 678.5,1082 L676,1081.7 C674.3,1081.3 674,1080 674,1078.5 L675.2,954 C675.3,952.3 675.8,951.8 677,951.5 Z" stroke-width="1.83" />
<path d="M692,930 L691,960 L688.8,1010 L687.3,1037.5" stroke-width="1.59" />
<path d="M706,930 L703.6,957 M717,930 L714.5,960" stroke-width="1.46" />
<path d="M692.7,953.6 L719.4,960.3 M687.3,960.3 L713.3,966.4 L719.4,978.5" stroke-width="1.59" />
<path d="M689.7,961.5 L707.3,966.4 L708.5,977.3 L690.3,972.4 Z" stroke-width="1.59" />
<path d="M689,979.7 L709,983.3 L709,1005 L689.7,1002.7 Z" stroke-width="1.71" />
<path d="M687.3,1012.4 L708.5,1013.6 L706,1040.3 L687.3,1036.7 Z" stroke-width="1.71" />
<path d="M690,1020 L707,1027 M691,1028 L704,1040" stroke-width="1.46" />
<path d="M706.5,966 L706,1040" stroke-width="1.95" stroke="#333"/>
<path d="M709,983.3 L719.5,981 M713.3,966.4 L713,981" stroke-width="1.22" stroke-dasharray="3 1.5"/>
<path d="M723.3,825 L722.5,873.3 L721,930 L720,1027" stroke-width="1.71" />
<path d="M708.5,1025.8 L720,1029.4 L734,1044 L735.2,1063.3 L722.4,1063.3 L702.4,1041.5" stroke-width="1.71" />
<path d="M722.4,1063.3 L723,1084 L736.4,1088.8 M722.8,1074.8 L736,1075 M735.2,1063.3 L737.6,1100" stroke-width="1.59" />
<path d="M682.4,1074.2 L721.8,1074.8" stroke-width="1.59" />
<path d="M684,1036.5 H696 M685,1053.5 H691 M694,1042 V1046 M694,1050 V1058 M694,1062 V1071" stroke-width="1.34" stroke-dasharray="4 2"/>
<path d="M721,1106 H725 V1112.5 H721 Z M725,1107 C728,1104.5 733,1105.5 733.5,1109.3 C733,1113 728,1114 725,1111.8" stroke-width="1.59" />
<path d="M727,1104.5 V1114.5 M730,1104.5 V1114.5" stroke-width="1.22" />
<path d="M735.9,1127 L725.3,1129.7 L722.7,1271.3 M724.5,1179 H736.5" stroke-width="1.71" />
<path d="M740.8,814.2 C741.3,820.2 743.0,837.4 744.0,850.0 C745.0,862.6 745.9,876.7 746.7,890.0 C747.5,903.3 748.2,916.7 749.0,930.0 C749.8,943.3 750.7,950.0 751.7,970.0 C752.7,990.0 754.2,1028.3 755.0,1050.0 C755.8,1071.7 756.2,1088.3 756.4,1100.0 C756.6,1111.7 756.5,1103.3 756.1,1120.0 C755.7,1136.7 755.2,1173.0 754.0,1200.0 C752.8,1227.0 750.4,1266.1 749.1,1281.9 C747.8,1297.7 746.9,1292.8 746.4,1295.0" stroke-width="1.83" />
<path d="M735.2,1063.3 C735.6,1069.4 737.3,1090.5 737.6,1100.0 C737.9,1109.5 737.2,1103.3 736.8,1120.0 C736.4,1136.7 735.9,1173.6 735.0,1200.0 C734.1,1226.4 732.1,1265.2 731.5,1278.3" stroke-width="1.71" />
<path d="M723.3,825 C722.5,815 722.5,808 725.5,806.7 C729,805.5 735,809 740,813.3" stroke-width="1.83" />
<path d="M724,824.5 L740.5,814.5" stroke-width="1.59" />
<path d="M740.8,814.2 L806.7,850" stroke-width="1.83" />
<circle cx="726.3" cy="811" r="0.9" stroke-width="1"/>
<path d="M695,818.3 L722.5,825 M695,818.3 L691.7,956.7 M708.3,823.3 L705,956.7" stroke-width="1.71" />
<path d="M695,818.3 L707.5,821.5 L706.7,867.5 L694.2,864.2" stroke-width="1.59" />
<path d="M694.2,864.2 L706.7,867.5 L720.5,872" stroke-width="1.46" />
<path d="M691.7,953 L705,957 L719,962" stroke-width="1.46" />
<path d="M712,838 L712.5,865" stroke-width="1.95" />
<path d="M715,830 L717.5,833.5 L721.5,831 L719.5,835.5 L722,840 L717.5,837.5 L714,839.5 L715.8,835.5 Z" stroke-width="0.98" style="fill:#111"/>
<path d="M713,870 L717,905 L719,960" stroke-width="1.46" />
<path d="M721.5,873 L716,925 L712,958" stroke-width="1.22" />
<circle cx="736.7" cy="928.3" r="4.2" stroke-width="2.3"/>
<circle cx="735.2" cy="958.3" r="4.2" stroke-width="2.3"/>
<path d="M809.2,815.0 C808.9,820.8 808.1,835.8 807.5,850.0 C806.9,864.2 806.2,885.0 805.5,900.0 C804.8,915.0 804.0,921.7 803.5,940.0 C803.0,958.3 802.9,983.3 802.5,1010.0 C802.1,1036.7 801.4,1073.3 801.0,1100.0 C800.6,1126.7 800.5,1139.2 800.2,1170.0 C799.9,1200.8 799.3,1260.0 799.2,1285.0 C799.1,1310.0 799.7,1314.2 799.8,1320.0" stroke-width="1.71" />
<path d="M798.5,990.0 C798.4,993.3 798.3,991.7 798.0,1010.0 C797.7,1028.3 796.9,1073.3 796.5,1100.0 C796.1,1126.7 796.0,1139.2 795.7,1170.0 C795.4,1200.8 794.9,1265.8 794.7,1285.0" stroke-width="1.34" />
<path d="M802.0,852.0 C801.8,860.0 801.1,885.3 800.5,900.0 C799.9,914.7 799.4,923.3 798.5,940.0 C797.6,956.7 795.9,981.7 795.0,1000.0 C794.1,1018.3 793.5,1033.3 793.0,1050.0 C792.5,1066.7 792.3,1080.0 792.0,1100.0 C791.7,1120.0 791.5,1139.2 791.2,1170.0 C790.9,1200.8 790.5,1265.8 790.4,1285.0" stroke-width="1.34" stroke-dasharray="30 2 8 2 40 3"/>
<path d="M731.5,1278.3 L746.4,1295 L794.8,1285.4" stroke-width="1.83" />
<path d="M731.5,1278.3 L722.7,1273 L718.3,1286.3 L746.4,1295 M727.5,1289 L731.5,1278.3" stroke-width="1.71" />
<path d="M722.7,1271.3 L722.7,1273 M708,1252.5 L722.7,1269" stroke-width="1.46" />
<path d="M694.5,1232.5 C693.5,1232.5 692.8,1233.5 692.8,1235 V1247 C692.8,1249 693.5,1250 695,1250.2 L731.5,1252.5 M694.5,1232.5 L731.5,1229" stroke-width="1.59" />
<path d="M696,1236 H729 M696,1246.5 L729,1248.5" stroke-width="1.22" stroke-dasharray="5 2 12 3"/>
<path d="M686.7,1223.5 L690.5,1231 M686,1232 H692 M686,1232 V1249 L692,1250.5 M683,1233 C681,1236 681,1246 683,1250 M690.5,1231 L731.5,1223" stroke-width="1.59" />
<path d="M703,1223.5 L731.5,1221.5" stroke-width="1.59" />
<path d="M529,1241 H680" stroke-width="1.83" />
<path d="M583.7,1240.4 L684,1228.3 M600,1240 L684,1232.5" stroke-width="1.46" />
<path d="M620,1236.3 V1240.5 M642,1233.7 V1240.5 M662,1231.3 V1240.5" stroke-width="1.46" />
<path d="M591,1245 L547,1298" stroke-width="2.68" />
<path d="M546,1241.9 L555.3,1282.6" stroke-width="1.34" />
<path d="M547,1298 L668.3,1333.5" stroke-width="1.95" />
<path d="M670.4,1245 L668.3,1335.6" stroke-width="2.68" />
<path d="M591,1244.5 H670" stroke-width="1.83" />
<path d="M679,1254 L680,1262 M679.5,1266 L680.5,1276 M680,1281 L681,1289" stroke-width="1.71" />
<circle cx="680.5" cy="1289.5" r="1.3" stroke-width="1.2" style="fill:#111"/>
<path d="M692,1254 V1272" stroke-width="1.59" stroke-dasharray="3 1.5"/>
<path d="M690,1267 L692,1271 L694,1267 M690,1261 L692,1265 L694,1261" stroke-width="1.22" />
</g>
<text x="158.8" y="34.6" class="sans med" font-size="14.3" textLength="217" lengthAdjust="spacingAndGlyphs" >CAMELEON GENERAL ARRANGEMENT</text>
<text x="705.3" y="20" class="sans med" font-size="14.3" textLength="186.5" lengthAdjust="spacingAndGlyphs" >GALLANT RIG-GENERAL LAYOUT</text>
<text x="363.7" y="677.5" class="sans" font-size="11.5" textLength="61.5" lengthAdjust="spacingAndGlyphs" >Scale:  1:75</text>
<text x="178.5" y="706" class="mono med2" font-size="17.6" textLength="74" lengthAdjust="spacingAndGlyphs" >Fig. 11</text>
<text x="670" y="706" class="mono med2" font-size="17.6" textLength="75" lengthAdjust="spacingAndGlyphs" >Fig. 12</text>
<text x="918.3" y="1096.5" class="mono med2" font-size="17.6" textLength="74.5" lengthAdjust="spacingAndGlyphs" transform="rotate(-90 918.3 1096.5)" >Fig. 10</text>
<text x="854.6" y="1209.0" class="serif" font-size="38" textLength="77.7" lengthAdjust="spacingAndGlyphs" transform="rotate(-88.9 854.6 1209.0)" >NEW</text>
<text x="856.34" y="1118.32" class="serif" font-size="38" textLength="91.6" lengthAdjust="spacingAndGlyphs" transform="rotate(-88.9 856.34 1118.32)" >DEAL</text>
<text x="858.42" y="1010.04" class="serif" font-size="38" textLength="36" lengthAdjust="spacingAndGlyphs" transform="rotate(-88.9 858.42 1010.04)" >33</text>
<text x="581" y="367.5" class="sans" font-size="9.6" textLength="29.5" lengthAdjust="spacingAndGlyphs" transform="rotate(-90 581 367.5)" >LEECH</text>
<text x="769.5" y="366" class="sans" font-size="9.6" textLength="21" lengthAdjust="spacingAndGlyphs" transform="rotate(-90 769.5 366)" >LUFF</text>
<text x="667.5" y="382" class="sans" font-size="9.6" textLength="42.5" lengthAdjust="spacingAndGlyphs" transform="rotate(-75.5 667.5 382)" >LAZYJACK</text>
<text x="707.3" y="518.5" class="sans" font-size="9.6" textLength="34" lengthAdjust="spacingAndGlyphs" transform="rotate(-90 707.3 518.5)" >HALYARD</text>
<text x="737" y="606" class="sans" font-size="9.6" textLength="45.5" lengthAdjust="spacingAndGlyphs" transform="rotate(-90 737 606)" >BULKHEAD</text>
<text x="625" y="518.5" class="sans" font-size="9.6" textLength="28" lengthAdjust="spacingAndGlyphs" transform="rotate(-9 625 518.5)" >SHEET</text>
<text x="741.8" y="519.5" class="sans" font-size="9.6" textLength="59" lengthAdjust="spacingAndGlyphs" >DECK COLLAR</text>
<text x="674.4" y="625.3" class="sans" font-size="9.6" textLength="48" lengthAdjust="spacingAndGlyphs" >MAST HEEL</text>
<text x="682.8" y="633.8" class="sans" font-size="9.6" textLength="39.7" lengthAdjust="spacingAndGlyphs" >SUPPORT</text>
<text x="912.8" y="182.5" class="sans" font-size="9.6" textLength="24" lengthAdjust="spacingAndGlyphs" transform="rotate(-90 912.8 182.5)" >MAST</text>
<text x="937.5" y="321" class="sans" font-size="9.6" textLength="51" lengthAdjust="spacingAndGlyphs" transform="rotate(-90 937.5 321)" style="text-decoration:underline">SAIL PANEL</text>
<text x="980" y="307.5" class="sans" font-size="9.6" textLength="50" lengthAdjust="spacingAndGlyphs" transform="rotate(-90 980 307.5)" style="text-decoration:underline">SAIL PANEL</text>
<text x="937.5" y="456" class="sans" font-size="9.6" textLength="51" lengthAdjust="spacingAndGlyphs" transform="rotate(-90 937.5 456)" style="text-decoration:underline">SAIL PANEL</text>
<text x="975.5" y="446" class="sans" font-size="9.6" textLength="50" lengthAdjust="spacingAndGlyphs" transform="rotate(-90 975.5 446)" style="text-decoration:underline">SAIL PANEL</text>
<text x="830" y="461" class="sans" font-size="9.6" textLength="117" lengthAdjust="spacingAndGlyphs" transform="rotate(-90 830 461)" >LEADING  EDGE  (LUFF)</text>
<text x="1072.5" y="334" class="sans" font-size="9.6" textLength="116.5" lengthAdjust="spacingAndGlyphs" transform="rotate(-90 1072.5 334)" >TRAILING  EDGE  (LEECH)</text>
<text x="935" y="535" class="sans" font-size="9.6" textLength="74" lengthAdjust="spacingAndGlyphs" transform="rotate(-34.7 935 535)" >BOTTOM BATTEN</text>
<text x="534.8" y="1344.5" class="sans" font-size="20" style="font-weight:normal;fill:#17557d;stroke:#17557d;stroke-width:0.3px">28</text>
<g fill="#222"><circle cx="174.3" cy="20" r="1.1"/><circle cx="720.3" cy="8.2" r="0.8"/><circle cx="723.8" cy="8.2" r="0.8"/><circle cx="168" cy="42" r="0.7"/><circle cx="176" cy="217" r="0.6"/><circle cx="103" cy="282" r="0.7"/><circle cx="23" cy="253" r="0.7"/><circle cx="57" cy="67" r="0.6"/><circle cx="338" cy="220" r="0.9"/><circle cx="313" cy="277" r="0.9"/><circle cx="418" cy="387" r="0.7"/><circle cx="372" cy="387" r="0.9"/><circle cx="12" cy="541" r="0.7"/><circle cx="18" cy="552.5" r="0.8"/><circle cx="495" cy="683" r="0.7"/><circle cx="468" cy="735" r="0.6"/><circle cx="578" cy="718" r="0.7"/><circle cx="545" cy="735" r="0.6"/><circle cx="1075" cy="385" r="0.6"/><circle cx="1068" cy="655" r="0.6"/><circle cx="60" cy="973" r="0.6"/><circle cx="150" cy="978.5" r="0.9"/><circle cx="473" cy="838" r="0.6"/><circle cx="474" cy="866" r="0.6"/><circle cx="528" cy="1016" r="0.6"/><circle cx="920" cy="660" r="0.6"/><circle cx="260" cy="80" r="0.5"/><circle cx="127" cy="213" r="0.5"/><circle cx="484" cy="95" r="0.5"/><circle cx="1025" cy="107" r="0.5"/><circle cx="870" cy="40" r="0.5"/><circle cx="620" cy="92" r="0.5"/><circle cx="596" cy="255" r="0.5"/><circle cx="818" cy="382" r="0.6"/><circle cx="810" cy="560" r="0.5"/><circle cx="470" cy="352" r="0.6"/><circle cx="225" cy="310" r="0.6"/><circle cx="110" cy="310" r="0.5"/><circle cx="510" cy="655" r="0.6"/><circle cx="640" cy="560" r="0.5"/><circle cx="1010" cy="175" r="0.6"/><circle cx="1015" cy="76" r="0.5"/><circle cx="640" cy="1043" r="0.5"/><circle cx="528" cy="1030" r="0.5"/><circle cx="585" cy="1325" r="0.6"/><circle cx="600" cy="1340" r="0.5"/><circle cx="843" cy="1358" r="0.6"/><circle cx="903" cy="1258" r="0.5"/><circle cx="760" cy="1300" r="0.5"/><circle cx="1058" cy="1318" r="0.5"/><circle cx="990" cy="978" r="0.5"/><circle cx="912" cy="1180" r="0.5"/></g>
</svg>
</body></html>
